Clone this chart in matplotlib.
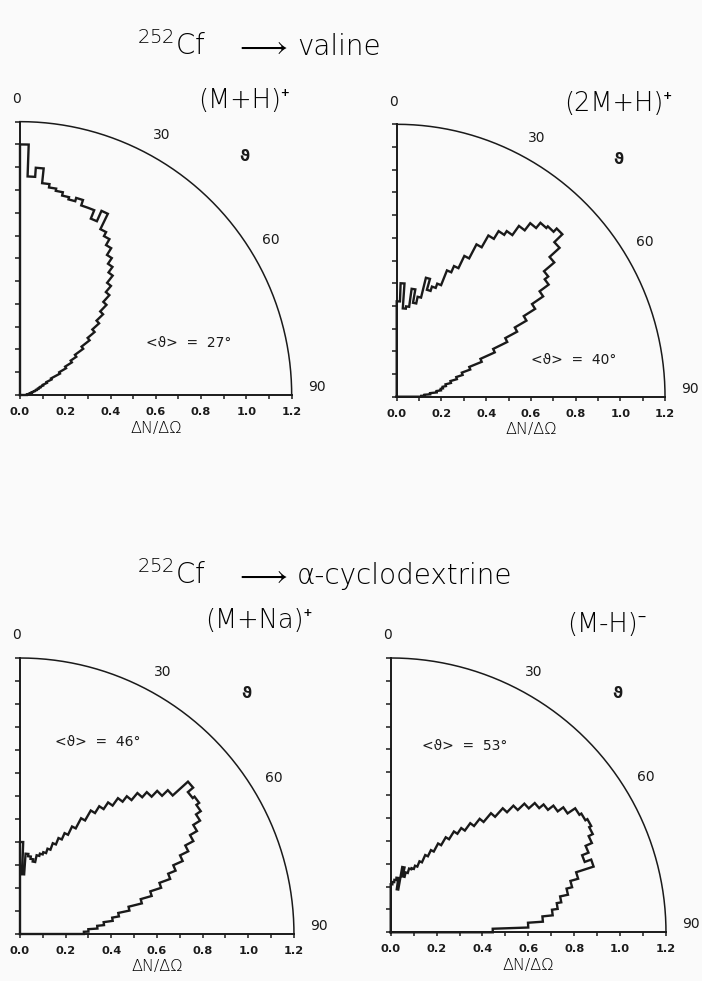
import numpy as np
import matplotlib.pyplot as plt
from matplotlib.ticker import FixedLocator, MultipleLocator

plt.rcParams['font.family'] = ['DejaVu Sans']
plt.rcParams['mathtext.fontset'] = 'custom'
plt.rcParams['mathtext.rm'] = 'DejaVu Sans:weight=light'
plt.rcParams['mathtext.it'] = 'DejaVu Sans:weight=light'

W, H = 702, 981
INK = '#1a1a1a'
PAPER = '#fafafa'
LABEL_FAMILY = ['DejaVu Sans', 'Noto Sans', 'DejaVu Serif']

# angular bins (degrees from the surface normal)
BIN_DEG = 2
theta_edges = np.arange(0, 90 + BIN_DEG, BIN_DEG)

# dN/dOmega per 2-degree bin, 0..90 deg
r_valine_MH = [1.10, 0.96, 1.00, 0.935, 0.92, 0.91, 0.895, 0.885, 0.90, 0.875,
               0.875, 0.835, 0.885, 0.81, 0.79, 0.76, 0.725, 0.695, 0.665, 0.625,
               0.59, 0.55, 0.51, 0.47, 0.43, 0.39, 0.345, 0.30, 0.27, 0.235,
               0.20, 0.155, 0.13, 0.11, 0.095, 0.085, 0.075, 0.065, 0.055, 0.05,
               0.045, 0.04, 0.035, 0.03, 0.03]
r_valine_2MH = [0.42, 0.50, 0.39, 0.40, 0.48, 0.42, 0.45, 0.54, 0.49, 0.51,
                0.53, 0.60, 0.63, 0.69, 0.76, 0.82, 0.86, 0.88, 0.93, 0.97,
                1.00, 1.01, 1.03, 0.98, 0.92, 0.86, 0.84, 0.79, 0.73, 0.67,
                0.61, 0.55, 0.48, 0.41, 0.35, 0.31, 0.28, 0.25, 0.225, 0.21,
                0.20, 0.18, 0.15, 0.125, 0.11]
r_cyclo_MNa = [0.40, 0.26, 0.35, 0.34, 0.33, 0.32, 0.35, 0.36, 0.37, 0.39,
               0.42, 0.45, 0.48, 0.52, 0.57, 0.62, 0.655, 0.69, 0.73, 0.76,
               0.80, 0.83, 0.865, 0.90, 0.99, 0.96, 0.97, 0.955, 0.93, 0.895,
               0.86, 0.82, 0.78, 0.735, 0.70, 0.65, 0.60, 0.55, 0.49, 0.44,
               0.41, 0.37, 0.34, 0.30, 0.28]
r_cyclo_MmH = [0.21, 0.22, 0.23, 0.24, 0.19, 0.29, 0.25, 0.27, 0.29, 0.295,
               0.31, 0.335, 0.37, 0.40, 0.44, 0.48, 0.52, 0.55, 0.59, 0.63,
               0.68, 0.73, 0.77, 0.81, 0.845, 0.87, 0.90, 0.93, 0.97, 0.98,
               0.99, 0.98, 0.96, 0.93, 0.90, 0.93, 0.85, 0.815, 0.79, 0.755,
               0.735, 0.71, 0.665, 0.60, 0.445]

panel_series = [r_valine_MH, r_valine_2MH, r_cyclo_MNa, r_cyclo_MmH]
ion_labels = ['(M+H)⁺', '(2M+H)⁺', '(M+Na)⁺', '(M-H)⁻']
mean_angles = [27, 40, 46, 53]
angle_marks = ['0', '30', '60', '90']
x_ticks = [0.0, 0.2, 0.4, 0.6, 0.8, 1.0, 1.2]
x_tick_labels = ['0.0', '0.2', '0.4', '0.6', '0.8', '1.0', '1.2']
R_MAX = 1.2
x_label = 'ΔN/ΔΩ'
reactions = ['valine', 'α-cyclodextrine']

# panel geometry in pixels: origin x, origin y (from top), px per unit in x, y
panel_geom = [(20.0, 395.0, 226.4, 227.8),
              (396.7, 396.7, 223.6, 227.0),
              (20.0, 934.0, 228.3, 230.0),
              (390.7, 932.3, 229.4, 228.6)]
# ion label placement (center x, baseline y) in pixels
ion_pos = [(244, 108), (618, 111), (259, 628), (607, 632)]
# header baselines in pixels
header_y = [55, 584]
# <theta> annotation centers in data units
mean_pos = [(0.745, 0.23), (0.79, 0.163), (0.34, 0.835), (0.323, 0.817)]
# angle mark positions (data units) around the quarter circle
mark_pos = [(-0.015, 1.30), (0.625, 1.14), (1.11, 0.68), (1.31, 0.035)]


def outline(r_bins):
    xs, ys = [0.0], [0.0]
    for i, r in enumerate(r_bins):
        t = np.radians(np.linspace(theta_edges[i], theta_edges[i + 1], 6))
        xs.extend(r * np.sin(t))
        ys.extend(r * np.cos(t))
    xs.append(0.0)
    ys.append(0.0)
    return np.array(xs), np.array(ys)


fig = plt.figure(figsize=(W / 100, H / 100), dpi=100, facecolor=PAPER)


def fx(px):
    return px / W


def fy(py):
    return 1 - py / H


for k, (ox, oy, sx, sy) in enumerate(panel_geom):
    ax = fig.add_axes([fx(ox), fy(oy), R_MAX * sx / W, R_MAX * sy / H])
    ax.set_facecolor('none')
    ax.set_xlim(0, R_MAX)
    ax.set_ylim(0, R_MAX)
    for side in ('top', 'right'):
        ax.spines[side].set_visible(False)
    for side in ('left', 'bottom'):
        ax.spines[side].set_linewidth(1.4)
        ax.spines[side].set_color(INK)

    ax.xaxis.set_major_locator(FixedLocator(x_ticks))
    ax.set_xticklabels(x_tick_labels, fontsize=8.2, fontweight='bold', color=INK)
    ax.xaxis.set_minor_locator(MultipleLocator(0.1))
    ax.yaxis.set_major_locator(MultipleLocator(0.1))
    ax.set_yticklabels([])
    ax.tick_params(axis='x', which='both', direction='out', length=3, width=1.1,
                   color=INK, pad=5.5)
    ax.tick_params(axis='y', which='both', direction='out', length=3.5, width=1.1,
                   color=INK)

    # quarter-circle frame
    t = np.radians(np.linspace(0, 90, 200))
    ax.plot(R_MAX * np.sin(t), R_MAX * np.cos(t), color=INK, lw=1.1, clip_on=False)

    # stepped angular distribution
    xs, ys = outline(panel_series[k])
    ax.plot(xs, ys, color=INK, lw=1.7, clip_on=False, solid_joinstyle='miter')

    for lab, (mx, my) in zip(angle_marks, mark_pos):
        ax.text(mx, my, lab, ha='center', va='center', fontsize=10, color=INK,
                clip_on=False)
    ax.text(0.99, 1.045, 'ϑ', ha='center', va='center', fontsize=11,
            fontweight='bold', color=INK, clip_on=False)
    ax.text(*mean_pos[k], f'<ϑ>  =  {mean_angles[k]}°', ha='center', va='center',
            fontsize=10, color=INK, clip_on=False)

    # axis caption below the tick labels
    fig.text(fx(ox + 0.6 * sx), fy(oy + 33), x_label, ha='center', va='center',
             fontsize=11.5, fontweight='light', color='black')

    ix, iy = ion_pos[k]
    fig.text(fx(ix), fy(iy), ion_labels[k], ha='center', va='baseline',
             fontsize=18.5, fontweight='light', family=LABEL_FAMILY,
             color='black')

# reaction headers
for base_y, target in zip(header_y, reactions):
    fig.text(fx(137), fy(base_y), r'$^{252}$Cf', ha='left', va='baseline',
             fontsize=20, fontweight='light', color='black')
    fig.text(fx(261), fy(base_y), r'$\longrightarrow$', ha='center',
             va='baseline', fontsize=22, math_fontfamily='stix', color='black')
    fig.text(fx(297), fy(base_y), target, ha='left', va='baseline',
             fontsize=20, fontweight='light', color='black')

fig.savefig('out.png', dpi=100, facecolor=PAPER)
